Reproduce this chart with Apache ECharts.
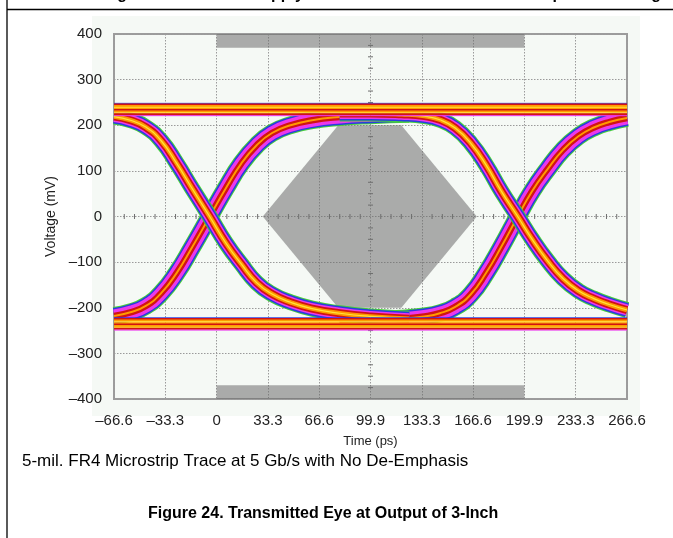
<!DOCTYPE html>
<html>
<head>
<meta charset="utf-8">
<script src="https://cdn.jsdelivr.net/npm/echarts@6/dist/echarts.min.js"></script>
<style>
  html, body { margin: 0; padding: 0; background: #fff; }
  #chart { width: 673px; height: 538px; }
</style>
</head>
<body>
<div id="chart"></div>
<script>
// axis ticks
const xTickLabels = ['–66.6', '–33.3', '0', '33.3', '66.6', '99.9', '133.3', '166.6', '199.9', '233.3', '266.6'];
const xStep = 33.32;

// eye traces, time in ps / voltage in mV
const fallLeftT  = [-66.6, -56, -46, -36, -26, -16, -4.5, 6, 16, 26, 36, 48, 62, 80, 100, 125];
const fallLeftV  = [219, 211, 196, 166, 117, 62, 0, -58, -104, -145, -170, -188, -202, -212, -219, -224];
const riseLeftT  = [-66.6, -56, -46, -36, -26, -16, -4.5, 6, 16, 26, 36, 48, 62, 80, 100, 125];
const riseLeftV  = [-218, -210, -196, -168, -124, -68, 0, 62, 116, 156, 183, 200, 211, 218, 222, 225];
const fallRightT = [80, 100, 120, 135, 145, 155, 165, 175, 185, 195.6, 205, 215, 225, 235, 245, 255, 266.6];
const fallRightV = [226, 226, 224, 220, 212, 194, 161, 113, 55, 0, -50, -97, -136, -163, -180, -193, -205];
const riseRightT = [80, 100, 120, 135, 145, 155, 165, 175, 185, 195.6, 205, 215, 225, 235, 245, 255, 266.6];
const riseRightV = [-226, -226, -224, -219, -212, -198, -171, -124, -66, 0, 56, 104, 146, 176, 195, 207, 216];

// rails (flat "1" and "0" levels), mV
const railSpan = [-66.6, 266.6];
const topRail = [248, 245, 242, 239, 236, 233, 230, 227, 224, 221];
const bottomRail = [-222, -225, -228, -231, -234, -237, -240, -243, -246, -249];

// eye mask polygons
const maskCenterT = [30, 79, 120, 169, 120, 79];
const maskCenterV = [0, 200, 200, 0, -200, -200];
const maskTopT = [0, 199.9, 199.9, 0];
const maskTopV = [370, 370, 400, 400];
const maskBottomT = [0, 199.9, 199.9, 0];
const maskBottomV = [-370, -370, -400, -400];

const FONT = 'Liberation Sans, Arial, Helvetica, sans-serif';
const C = { green: '#45cf3c', blue: '#2a3be0', magenta: '#ec38ec', red: '#d01414', orange: '#ff9a00', yellow: '#ffe23a' };

function zip(ts, vs) { return ts.map((t, i) => [t, vs[i]]); }

function band(ts, vs, layers) {
  const data = zip(ts, vs);
  return layers.map(l => ({
    type: 'line', data: data, smooth: 0.5, symbol: 'none',
    silent: true, lineStyle: { width: l[0], color: l[1] }
  }));
}

const fallLayers = [[16, C.green], [14, C.blue], [11, C.magenta], [8, C.red], [4.5, C.orange], [1.2, C.yellow]];
const riseLayers = [[18, C.green], [16, C.blue], [13, C.magenta], [6.5, C.red], [2, C.orange]];

const railColors = [C.blue, C.red, C.orange, C.yellow, C.orange, C.red, C.orange, C.yellow, C.red, C.magenta];
function rails(levels) {
  return levels.map((lv, i) => ({
    type: 'line', data: [[railSpan[0], lv], [railSpan[1], lv]], symbol: 'none', silent: true,
    lineStyle: { width: (i === 0 || i === levels.length - 1) ? 1 : (railColors[i] === C.yellow ? 1.4 : 2.2), color: railColors[i % railColors.length] }
  }));
}

const masks = [
  { t: maskTopT, v: maskTopV },
  { t: maskBottomT, v: maskBottomV },
  { t: maskCenterT, v: maskCenterV }
];

// graticule minor ticks on the centre cross
const gratTicks = [];
for (let i = 1; i < 50; i++) if (i % 5) gratTicks.push([-66.64 + i * xStep / 5, 0, 0]);
for (let i = 1; i < 32; i++) if (i % 4) gratTicks.push([99.96, -400 + i * 25, 1]);

const chart = echarts.init(document.getElementById('chart'));
chart.setOption({
  animation: false,
  textStyle: { fontFamily: FONT },
  graphic: [
    { type: 'rect', z: -10, shape: { x: 92, y: 16, width: 548, height: 400 }, style: { fill: '#f5f9f5' } },
    { type: 'line', shape: { x1: 7, y1: 0, x2: 7, y2: 538 }, style: { stroke: '#000', lineWidth: 1.3 } },
    { type: 'line', shape: { x1: 7, y1: 9.5, x2: 673, y2: 9.5 }, style: { stroke: '#000', lineWidth: 1.3 } },
    { type: 'text', left: 103, top: -13.5, style: { text: 'Figure 23. Nominal Supply Current Across Transmitter Temperature Range', font: 'bold 16px ' + FONT, fill: '#000' } },
    { type: 'text', left: 22, top: 453, style: { text: '5-mil. FR4 Microstrip Trace at 5 Gb/s with No De-Emphasis', font: '17px ' + FONT, fill: '#000' } },
    { type: 'text', left: 148, top: 506, style: { text: 'Figure 24. Transmitted Eye at Output of 3-Inch', font: 'bold 16px ' + FONT, fill: '#000' } }
  ],
  grid: { left: 114, right: 46, top: 34, bottom: 139, show: true, borderColor: '#9c9c9c', borderWidth: 2, backgroundColor: 'transparent' },
  xAxis: {
    type: 'value', min: -66.64, max: 266.56, interval: xStep,
    name: 'Time (ps)', nameLocation: 'middle', nameGap: 36,
    nameTextStyle: { fontSize: 13, color: '#222' },
    axisLine: { show: false, onZero: false }, axisTick: { show: false },
    axisLabel: { fontSize: 15, color: '#222', margin: 14,
      formatter: v => xTickLabels[Math.round((v + 66.64) / xStep)] },
    splitLine: { show: true, lineStyle: { color: '#9a9a9a', width: 1, type: [1.5, 1.5] } }
  },
  yAxis: {
    type: 'value', min: -400, max: 400, interval: 100,
    name: 'Voltage (mV)', nameLocation: 'middle', nameGap: 50,
    nameTextStyle: { fontSize: 14, color: '#222' },
    axisLine: { show: false, onZero: false }, axisTick: { show: false },
    axisLabel: { fontSize: 15, color: '#222', margin: 12,
      formatter: v => (v < 0 ? '–' + Math.abs(v) : String(v)) },
    splitLine: { show: true, lineStyle: { color: '#9a9a9a', width: 1, type: [1.5, 1.5] } }
  },
  series: [
    {
      type: 'custom', silent: true, data: masks.map((m, i) => [i]),
      renderItem: (params, api) => {
        const m = masks[params.dataIndex];
        return { type: 'polygon', shape: { points: m.t.map((t, i) => api.coord([t, m.v[i]])) },
          style: { fill: 'rgba(108,108,108,0.55)' } };
      }
    },
    {
      type: 'custom', silent: true, data: gratTicks,
      renderItem: (params, api) => {
        const p = api.coord([api.value(0), api.value(1)]);
        const vert = api.value(2) === 0;
        return { type: 'line',
          shape: vert ? { x1: p[0], y1: p[1] - 2.5, x2: p[0], y2: p[1] + 2.5 } : { x1: p[0] - 2.5, y1: p[1], x2: p[0] + 2.5, y2: p[1] },
          style: { stroke: '#6e6e6e', lineWidth: 1 } };
      }
    },
    ...band(riseLeftT, riseLeftV, riseLayers),
    ...band(riseRightT, riseRightV, riseLayers),
    ...band(fallLeftT, fallLeftV, fallLayers),
    ...band(fallRightT, fallRightV, fallLayers),
    ...rails(topRail),
    ...rails(bottomRail)
  ]
});
</script>
</body>
</html>
